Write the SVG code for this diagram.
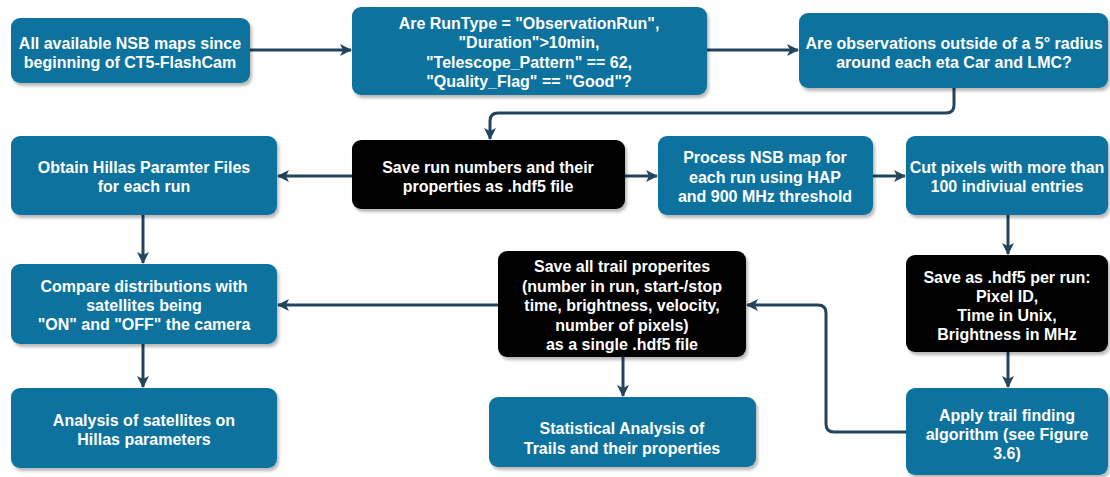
<svg xmlns="http://www.w3.org/2000/svg" width="1110" height="477" viewBox="0 0 1110 477">
  <defs>
    <filter id="shadow" x="-10%" y="-10%" width="130%" height="140%">
      <feDropShadow dx="2" dy="3" stdDeviation="1.5" flood-color="#000" flood-opacity="0.28"/>
    </filter>
    <marker id="arrow" viewBox="0 0 12 12" refX="11" refY="6" markerWidth="12" markerHeight="12" markerUnits="userSpaceOnUse" orient="auto">
      <path d="M0,0 L12,6 L0,12 L3,6 Z" fill="#23445D"/>
    </marker>
    <style>
      .blue { fill: #10739E; filter: url(#shadow); }
      .dark { fill: #000000; filter: url(#shadow); }
      .lbl { font-family: "Liberation Sans", Arial, sans-serif; font-size: 16px; font-weight: bold; fill: #ffffff; text-anchor: middle; }
      .edge { fill: none; stroke: #23445D; stroke-width: 3; marker-end: url(#arrow); }
    </style>
  </defs>

  <g id="connectors">
    <path class="edge" d="M250,50 L351,50"/>
    <path class="edge" d="M707,50 L798,50"/>
    <path class="edge" d="M954,88 L954,105 Q954,113 946,113 L498,113 Q490,113 490,121 L490,139"/>
    <path class="edge" d="M352,176 L278,176"/>
    <path class="edge" d="M625,176 L657,176"/>
    <path class="edge" d="M873,176 L905,176"/>
    <path class="edge" d="M1008,215 L1008,254"/>
    <path class="edge" d="M1008,352 L1008,387"/>
    <path class="edge" d="M906,432 L834,432 Q826,432 826,424 L826,313 Q826,305 818,305 L747,305"/>
    <path class="edge" d="M498,305 L278,305"/>
    <path class="edge" d="M623,357 L623,396"/>
    <path class="edge" d="M143,215 L143,263"/>
    <path class="edge" d="M143,344 L143,387"/>
  </g>

  <g id="node-all-maps">
    <rect class="blue" x="11" y="18" width="239" height="65" rx="9"/>
    <text class="lbl" x="130" y="49">All available NSB maps since</text>
    <text class="lbl" x="130" y="68">beginning of CT5-FlashCam</text>
  </g>

  <g id="node-run-criteria">
    <rect class="blue" x="352" y="7" width="355" height="88" rx="9"/>
    <text class="lbl" x="529" y="29">Are RunType = "ObservationRun",</text>
    <text class="lbl" x="529" y="48">"Duration"&gt;10min,</text>
    <text class="lbl" x="529" y="68">"Telescope_Pattern" == 62,</text>
    <text class="lbl" x="529" y="87">"Quality_Flag" == "Good"?</text>
  </g>

  <g id="node-radius-check">
    <rect class="blue" x="799" y="13" width="309" height="75" rx="9"/>
    <text class="lbl" x="954" y="49">Are observations outside of a 5° radius</text>
    <text class="lbl" x="954" y="68">around each eta Car and LMC?</text>
  </g>

  <g id="node-save-runs">
    <rect class="dark" x="352" y="140" width="273" height="69" rx="9"/>
    <text class="lbl" x="488" y="173">Save run numbers and their</text>
    <text class="lbl" x="488" y="192">properties as .hdf5 file</text>
  </g>

  <g id="node-hillas-files">
    <rect class="blue" x="11" y="136" width="266" height="79" rx="9"/>
    <text class="lbl" x="144" y="173">Obtain Hillas Paramter Files</text>
    <text class="lbl" x="144" y="192">for each run</text>
  </g>

  <g id="node-process-nsb">
    <rect class="blue" x="658" y="136" width="215" height="79" rx="9"/>
    <text class="lbl" x="765" y="163">Process NSB map for</text>
    <text class="lbl" x="765" y="183">each run using HAP</text>
    <text class="lbl" x="765" y="202">and 900 MHz threshold</text>
  </g>

  <g id="node-cut-pixels">
    <rect class="blue" x="906" y="136" width="202" height="79" rx="9"/>
    <text class="lbl" x="1007" y="173">Cut pixels with more than</text>
    <text class="lbl" x="1007" y="192">100 indiviual entries</text>
  </g>

  <g id="node-save-per-run">
    <rect class="dark" x="906" y="255" width="202" height="97" rx="9"/>
    <text class="lbl" x="1007" y="283">Save as .hdf5 per run:</text>
    <text class="lbl" x="1007" y="302">Pixel ID,</text>
    <text class="lbl" x="1007" y="321">Time in Unix,</text>
    <text class="lbl" x="1007" y="340">Brightness in MHz</text>
  </g>

  <g id="node-trail-finding">
    <rect class="blue" x="906" y="388" width="202" height="87" rx="9"/>
    <text class="lbl" x="1007" y="421">Apply trail finding</text>
    <text class="lbl" x="1007" y="440">algorithm (see Figure</text>
    <text class="lbl" x="1007" y="459">3.6)</text>
  </g>

  <g id="node-save-trails">
    <rect class="dark" x="498" y="251" width="248" height="106" rx="9"/>
    <text class="lbl" x="622" y="272">Save all trail properites</text>
    <text class="lbl" x="622" y="292">(number in run, start-/stop</text>
    <text class="lbl" x="622" y="311">time, brightness, velocity,</text>
    <text class="lbl" x="622" y="331">number of pixels)</text>
    <text class="lbl" x="622" y="350">as a single .hdf5 file</text>
  </g>

  <g id="node-statistics">
    <rect class="blue" x="489" y="397" width="267" height="70" rx="9"/>
    <text class="lbl" x="622" y="434">Statistical Analysis of</text>
    <text class="lbl" x="622" y="454">Trails and their properties</text>
  </g>

  <g id="node-compare">
    <rect class="blue" x="11" y="264" width="266" height="80" rx="9"/>
    <text class="lbl" x="144" y="292">Compare distributions with</text>
    <text class="lbl" x="144" y="311">satellites being</text>
    <text class="lbl" x="144" y="330">"ON" and "OFF" the camera</text>
  </g>

  <g id="node-hillas-analysis">
    <rect class="blue" x="11" y="388" width="266" height="80" rx="9"/>
    <text class="lbl" x="144" y="426">Analysis of satellites on</text>
    <text class="lbl" x="144" y="445">Hillas parameters</text>
  </g>
</svg>
